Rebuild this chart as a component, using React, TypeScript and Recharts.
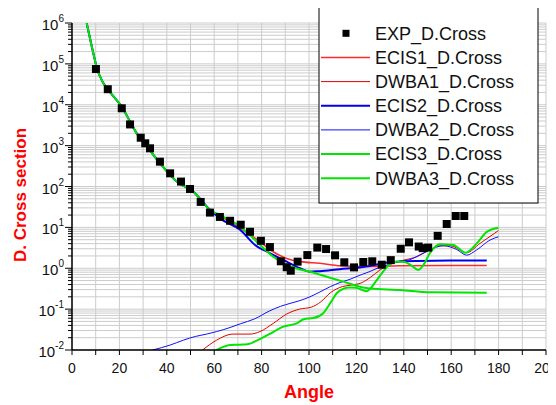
import React from 'react';
import { ComposedChart, Line, Scatter, XAxis, YAxis, CartesianGrid } from 'recharts';

const FONT = '"Liberation Sans", Arial, Helvetica, sans-serif';

const seriesNames = ['EXP_D.Cross', 'ECIS1_D.Cross', 'DWBA1_D.Cross', 'ECIS2_D.Cross', 'DWBA2_D.Cross', 'ECIS3_D.Cross', 'DWBA3_D.Cross'];
const seriesColors = ['#000000', '#ff2a2a', '#e00000', '#0000ee', '#1010ff', '#00e600', '#00e600'];
const seriesWidths = [0, 1.6, 1, 2, 1, 2, 2];

const xTicks = [0, 10, 20, 30, 40, 50, 60, 70, 80, 90, 100, 110, 120, 130, 140, 150, 160, 170, 180, 190, 200];
const xLabelTicks = [0, 20, 40, 60, 80, 100, 120, 140, 160, 180, 200];
const decadeTicks = [0.01, 0.1, 1, 10, 100, 1000, 10000, 100000, 1000000];
const decadeExps = ['-2', '-1', '0', '1', '2', '3', '4', '5', '6'];
const minorSteps = [2, 3, 4, 5, 6, 7, 8, 9];

// experimental points
const expAngle = [10.1, 15.1, 21.0, 24.5, 29.0, 30.9, 32.9, 37.1, 41.4, 46.0, 49.8, 54.3, 58.2, 62.4, 66.7, 71.2, 75.1, 79.7, 83.5, 88.1, 90.6, 92.3, 95.2, 99.3, 103.5, 107.2, 111.0, 114.9, 119.0, 122.9, 126.7, 130.7, 134.5, 138.7, 142.2, 146.3, 148.0, 150.3, 154.3, 158.1, 161.9, 165.5];
const expValue = [75000, 24000, 8200, 3300, 1560, 1140, 860, 405, 210, 132, 87, 42, 23, 18, 14.5, 11.6, 7.8, 4.7, 3.3, 1.48, 1.06, 0.87, 1.45, 2.1, 3.2, 2.95, 2.07, 1.4, 1.05, 1.42, 1.48, 1.22, 1.58, 3.0, 4.3, 3.4, 3.1, 3.2, 6.2, 12.1, 19, 19];

// forward-angle part shared by the ECIS curves
const forwardAngle = [6.2, 9, 10.5, 13.2, 17, 21, 24.5, 27.3, 32, 37.1, 44.2, 51.2, 58.2];
const forwardValue = [1000000, 182000, 79000, 33900, 17400, 8910, 3890, 1995, 891, 372, 132, 74, 26.9];

const ecis1Angle = [62.4, 70.9, 79.3, 84.9, 90.6, 96.2, 104.6, 113.1, 121.5, 138.4, 159.5, 175];
const ecis1Value = [19.1, 9.55, 4.47, 2.54, 1.74, 1.45, 1.32, 1.15, 1.1, 1.15, 1.17, 1.17];

const ecis2Angle = [62.4, 70.9, 77.2, 83.5, 90.6, 96.2, 100.4, 104.6, 113, 121.5, 125.7, 134, 145.4, 159.5, 175];
const ecis2Value = [16.6, 8.7, 3.72, 2.34, 1.45, 1.0, 0.82, 0.85, 0.95, 1.05, 1.14, 1.4, 1.51, 1.55, 1.55];

const ecis3Angle = [62.4, 70.9, 77.9, 84.9, 90.6, 96.2, 100.4, 107.5, 114.5, 121.5, 125.7, 138.4, 151, 175];
const ecis3Value = [20, 10.5, 4.47, 1.91, 1.2, 0.93, 0.82, 0.62, 0.47, 0.355, 0.32, 0.295, 0.257, 0.25];

const dwba1Angle = [55.1, 61, 68, 75.1, 79.3, 84.9, 90.6, 96, 101, 105, 109, 114, 118, 122, 126, 130, 134.2, 140, 145.4, 150, 155.3, 159.5, 166.5, 172.2, 179.9];
const dwba1Value = [0.01, 0.0174, 0.0245, 0.0245, 0.0282, 0.0447, 0.0759, 0.1, 0.112, 0.151, 0.251, 0.355, 0.389, 0.437, 0.603, 0.912, 1.26, 1.58, 1.91, 2.63, 3.55, 3.55, 2.4, 4.07, 8.32];

const dwba2Angle = [34, 41.4, 47, 52, 56.8, 61, 66.7, 71, 77, 83.5, 88, 92, 96.2, 100.4, 104.6, 109, 113.1, 117.3, 121.5, 125.7, 130, 134.2, 138, 142.6, 146, 151, 156.7, 162.3, 166.5, 170.8, 176.4, 179.9];
const dwba2Value = [0.01, 0.0132, 0.0174, 0.0214, 0.0245, 0.0282, 0.0355, 0.0437, 0.0575, 0.0912, 0.117, 0.138, 0.162, 0.2, 0.263, 0.355, 0.447, 0.537, 0.676, 0.832, 1.07, 1.26, 1.45, 1.62, 2.0, 2.82, 3.55, 2.88, 2.09, 2.82, 4.9, 5.89];

const dwba3Angle = [61, 66.7, 70.9, 74, 77.9, 83, 89.2, 94.8, 98, 101.8, 106, 109, 111.7, 114.5, 117.3, 120, 124.3, 128.6, 131, 134.2, 137, 139.8, 143, 146.1, 148.5, 151, 155.3, 160.9, 166, 170.8, 175, 179.9];
const dwba3Value = [0.01, 0.0132, 0.0135, 0.0138, 0.017, 0.024, 0.0372, 0.0447, 0.0575, 0.0603, 0.0794, 0.141, 0.245, 0.316, 0.339, 0.331, 0.275, 0.513, 0.794, 1.26, 1.45, 1.45, 1.2, 0.912, 1.26, 2.34, 3.89, 3.72, 2.4, 4.07, 7.76, 9.77];

const zip = (xs: number[], ys: number[]) => xs.map((x, i) => ({ x, y: ys[i] }));

const expData = zip(expAngle, expValue);
const forward = zip(forwardAngle, forwardValue);
const curves = [
  [...forward, ...zip(ecis1Angle, ecis1Value)],
  zip(dwba1Angle, dwba1Value),
  [...forward, ...zip(ecis2Angle, ecis2Value)],
  zip(dwba2Angle, dwba2Value),
  [...forward, ...zip(ecis3Angle, ecis3Value)],
  zip(dwba3Angle, dwba3Value),
];

const yTicks = decadeTicks.flatMap((d, i) =>
  i < decadeTicks.length - 1 ? [d, ...minorSteps.map((m) => d * m)] : [d]
);

const LeftTick = (props: any) => {
  const { x, y, payload } = props;
  const idx = decadeTicks.indexOf(payload.value);
  const major = idx >= 0;
  return (
    <g>
      <line x1={x - (major ? 7 : 4)} x2={x} y1={y} y2={y} stroke="#000" strokeWidth={1} />
      {major && (
        <text x={x - 8} y={y + 7} textAnchor="end" fontFamily={FONT} fontSize={15} fill="#111">
          <tspan>10</tspan>
          <tspan dy={-8} fontSize={10}>{decadeExps[idx]}</tspan>
        </text>
      )}
    </g>
  );
};

const RightTick = (props: any) => {
  const { x, y, payload } = props;
  const major = decadeTicks.indexOf(payload.value) >= 0;
  return <line x1={x - (major ? 7 : 4)} x2={x} y1={y} y2={y} stroke="#000" strokeWidth={1} />;
};

const BottomTick = (props: any) => {
  const { x, y, payload } = props;
  const labelled = xLabelTicks.indexOf(payload.value) >= 0;
  return (
    <g>
      <line x1={x} x2={x} y1={y} y2={y + 5} stroke="#000" strokeWidth={1} />
      {labelled && (
        <text x={x} y={y + 23} textAnchor="middle" fontFamily={FONT} fontSize={14} fill="#111">
          {payload.value}
        </text>
      )}
    </g>
  );
};

const TopTick = (props: any) => {
  const { x, y } = props;
  return <line x1={x} x2={x} y1={y} y2={y + 4} stroke="#000" strokeWidth={1} />;
};

const XLabel = () => (
  <text x={301} y={390} textAnchor="middle" fontFamily={FONT} fontSize={18} fontWeight="bold" fill="#ff0000">
    Angle
  </text>
);

const YLabel = () => (
  <text
    x={12}
    y={187}
    transform="rotate(-90 12 187)"
    textAnchor="middle"
    dominantBaseline="central"
    fontFamily={FONT}
    fontSize={17}
    fontWeight="bold"
    fill="#ff0000"
  >
    D. Cross section
  </text>
);

const LegendBox = () => (
  <svg width={222} height={201} style={{ position: 'absolute', left: 310, top: -4 }}>
    <rect x={1} y={1} width={219} height={198} fill="#fff" stroke="#000" strokeWidth={1} />
    {seriesNames.map((name, i) => {
      const cy = 29.3 + i * 24.15;
      return (
        <g key={name}>
          {i === 0 ? (
            <rect x={24.5} y={cy - 3.5} width={7} height={7} fill="#000" />
          ) : (
            <line x1={3} x2={52} y1={cy} y2={cy} stroke={seriesColors[i]} strokeWidth={seriesWidths[i]} />
          )}
          <text x={57} y={cy + 6.4} fontFamily={FONT} fontSize={18} fill="#111">
            {name}
          </text>
        </g>
      );
    })}
  </svg>
);

export default function App() {
  return (
    <div style={{ position: 'relative', width: 548, height: 397 }}>
      <ComposedChart width={548} height={397} margin={{ top: 15, right: 10, bottom: 0, left: 0 }}>
        <CartesianGrid stroke="#cccccc" strokeWidth={1} />
        <XAxis
          type="number"
          dataKey="x"
          domain={[0, 200]}
          ticks={xTicks}
          interval={0}
          allowDataOverflow
          height={55}
          tickSize={0}
          tickMargin={0}
          tickLine={false}
          tick={<BottomTick />}
          axisLine={{ stroke: '#000', strokeWidth: 1.5 }}
          label={<XLabel />}
        />
        <XAxis
          xAxisId="top"
          orientation="top"
          type="number"
          domain={[0, 200]}
          ticks={xTicks}
          interval={0}
          allowDataOverflow
          height={0}
          tickSize={0}
          tickMargin={0}
          tickLine={false}
          tick={<TopTick />}
          axisLine={{ stroke: '#000', strokeWidth: 1.5 }}
        />
        <YAxis
          type="number"
          dataKey="y"
          scale="log"
          domain={[0.01, 1000000]}
          ticks={yTicks}
          interval={0}
          allowDataOverflow
          width={64}
          tickSize={0}
          tickMargin={0}
          tickLine={false}
          tick={<LeftTick />}
          axisLine={{ stroke: '#000', strokeWidth: 1.5 }}
          label={<YLabel />}
        />
        <YAxis
          yAxisId="right"
          orientation="right"
          type="number"
          scale="log"
          domain={[0.01, 1000000]}
          ticks={yTicks}
          interval={0}
          allowDataOverflow
          width={0}
          tickSize={0}
          tickMargin={0}
          tickLine={false}
          tick={<RightTick />}
          axisLine={{ stroke: '#000', strokeWidth: 1.5 }}
        />
        <Scatter name={seriesNames[0]} data={expData} fill="#000" shape="square" isAnimationActive={false} />
        {curves.map((c, i) => (
          <Line
            key={seriesNames[i + 1]}
            name={seriesNames[i + 1]}
            data={c}
            dataKey="y"
            type="monotone"
            stroke={seriesColors[i + 1]}
            strokeWidth={seriesWidths[i + 1]}
            dot={false}
            activeDot={false}
            isAnimationActive={false}
          />
        ))}
      </ComposedChart>
      <LegendBox />
    </div>
  );
}
